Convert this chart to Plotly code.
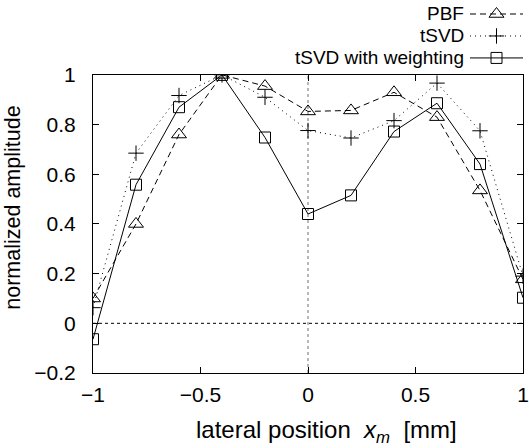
import plotly.graph_objects as go

# lateral positions (mm)
x_pos = [-1, -0.8, -0.6, -0.4, -0.2, 0, 0.2, 0.4, 0.6, 0.8, 1]

# normalized amplitudes
pbf = [0.10, 0.40, 0.76, 1.0, 0.955, 0.853, 0.857, 0.93, 0.83, 0.535, 0.177]
tsvd = [0.063, 0.685, 0.917, 1.0, 0.91, 0.776, 0.746, 0.816, 0.967, 0.775, 0.19]
tsvd_w = [-0.064, 0.558, 0.87, 1.0, 0.748, 0.44, 0.515, 0.772, 0.886, 0.641, 0.103]

names = ['PBF', 'tSVD', 'tSVD with weighting']
series = [pbf, tsvd, tsvd_w]
dashes = ['6px,4px', '1px,4px', 'solid']
symbols = ['triangle-up-open', 'cross-thin-open', 'square-open']
sizes = [13, 11, 11]

x_ticks = [-1, -0.5, 0, 0.5, 1]
y_ticks = [-0.2, 0, 0.2, 0.4, 0.6, 0.8, 1]

FONT = 'Liberation Sans, Arial, sans-serif'

fig = go.Figure()

for name, ys, dash, sym, sz in zip(names, series, dashes, symbols, sizes):
    fig.add_trace(go.Scatter(
        x=x_pos, y=ys, mode='lines+markers', name=name,
        line=dict(color='black', width=1, dash=dash),
        marker=dict(symbol=sym, size=sz, color='black',
                    line=dict(color='black', width=1)),
        xaxis='x', yaxis='y', showlegend=False))

# hand-made legend (symbol to the right of the text) on a small helper axis
for i, (name, dash, sym, sz) in enumerate(zip(names, dashes, symbols, sizes)):
    row = 2.5 - i
    fig.add_trace(go.Scatter(
        x=[0, 0.5, 1], y=[row, row, row], mode='lines',
        line=dict(color='black', width=1, dash=dash),
        xaxis='x2', yaxis='y2', showlegend=False, hoverinfo='skip'))
    fig.add_trace(go.Scatter(
        x=[0.5], y=[row], mode='markers',
        marker=dict(symbol=sym, size=sz, color='black',
                    line=dict(color='black', width=1)),
        xaxis='x2', yaxis='y2', showlegend=False, hoverinfo='skip'))
    fig.add_annotation(x=0, y=row, xref='x2', yref='y2', text=name,
                       showarrow=False, xanchor='right', xshift=-4,
                       font=dict(family=FONT, size=19, color='black'))

# dotted reference lines
fig.add_shape(type='line', x0=0, x1=0, y0=-0.2, y1=1, xref='x', yref='y',
              line=dict(color='#888888', width=1.2, dash='dot'), layer='below')
fig.add_shape(type='line', x0=-1, x1=1, y0=0, y1=0, xref='x', yref='y',
              line=dict(color='black', width=1, dash='dot'), layer='below')

W, H = 529, 448
L, R = 93, 6
top_px, bottom_px = 75, 373.5
m_t, m_b = 3, H - bottom_px
area_w = W - L - R
area_h = H - m_t - m_b

# axis titles as annotations (placed in pixel terms relative to the frame)
fig.add_annotation(
    text='lateral position&nbsp;&nbsp;<i>x</i><sub><i>m</i></sub>&nbsp;&nbsp;[mm]',
    xref='paper', yref='paper', x=(326 - L) / area_w, y=(bottom_px - 432) / area_h,
    xanchor='center', yanchor='middle', showarrow=False,
    font=dict(family=FONT, size=24, color='black'))
fig.add_annotation(
    text='normalized amplitude', textangle=-90,
    xref='paper', yref='paper', x=(13 - L) / area_w, y=(bottom_px - 208) / area_h,
    xanchor='center', yanchor='middle', showarrow=False,
    font=dict(family=FONT, size=21.5, color='black'))

fig.update_layout(
    width=W, height=H,
    margin=dict(l=L, r=R, t=m_t, b=m_b, autoexpand=False),
    paper_bgcolor='white', plot_bgcolor='white',
    font=dict(family=FONT, size=21, color='black'),
    xaxis=dict(range=[-1, 1], tickvals=x_ticks,
               ticktext=['\u22121', '\u22120.5', '0', '0.5', '1'],
               ticks='inside', ticklen=6, tickcolor='black',
               ticklabelstandoff=3, automargin=False,
               showline=True, linecolor='black', linewidth=1, mirror='ticks',
               showgrid=False, zeroline=False, anchor='y'),
    yaxis=dict(range=[-0.2, 1], tickvals=y_ticks,
               ticktext=['\u22120.2', '0', '0.2', '0.4', '0.6', '0.8', '1'],
               domain=[0, (bottom_px - top_px) / area_h],
               ticks='inside', ticklen=6, tickcolor='black',
               ticklabelstandoff=12, automargin=False,
               showline=True, linecolor='black', linewidth=1, mirror='ticks',
               showgrid=False, zeroline=False, anchor='x'),
    xaxis2=dict(domain=[(470 - L) / area_w, 1], range=[0, 1], visible=False,
                anchor='y2', fixedrange=True),
    yaxis2=dict(domain=[(bottom_px - 69) / area_h, (bottom_px - 3) / area_h],
                range=[0, 3], visible=False, anchor='x2', fixedrange=True),
)

# drop the browser's default 8px body margin so the figure sits at the corner
fig.write_html("out.html", config={'displayModeBar': False},
               post_script="document.body.style.margin='0';")
